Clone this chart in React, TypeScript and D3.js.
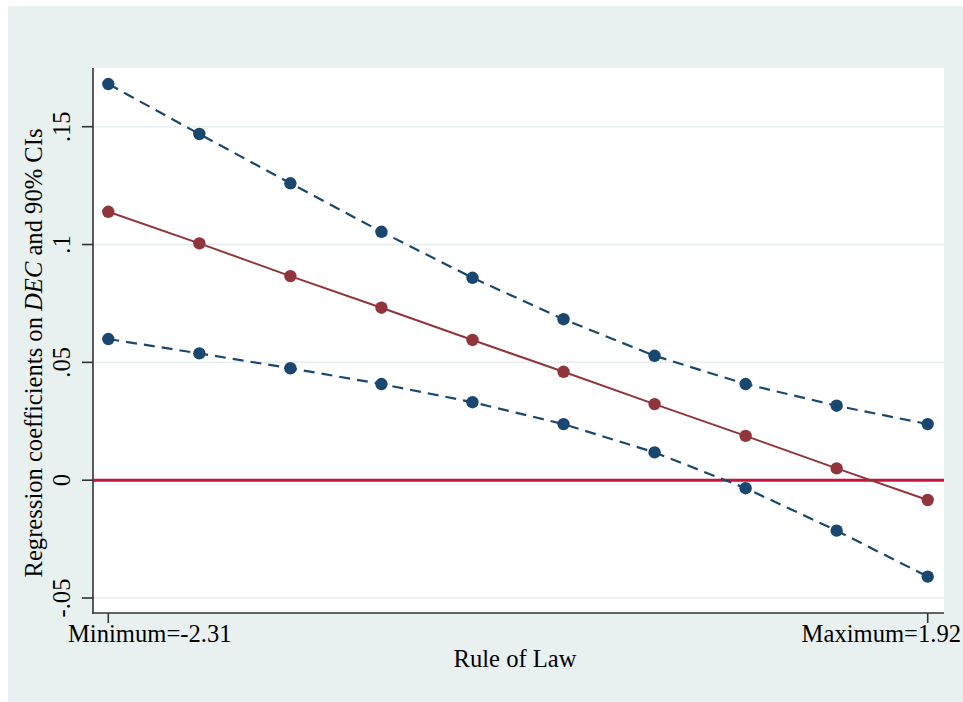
import React from "react";
import * as d3 from "d3";

// Rule of Law evaluation points (min to max)
const ruleOfLaw = [-2.31, -1.84, -1.37, -0.9, -0.43, 0.04, 0.51, 0.98, 1.45, 1.92];
// Marginal effect of DEC and its 90% confidence bounds
const coef = [0.1139, 0.1005, 0.0866, 0.0732, 0.0595, 0.046, 0.0323, 0.0188, 0.005, -0.0084];
const upperCI = [0.1681, 0.1469, 0.126, 0.1054, 0.0859, 0.0683, 0.0528, 0.0408, 0.0316, 0.0238];
const lowerCI = [0.0599, 0.0538, 0.0475, 0.0408, 0.0331, 0.0238, 0.0118, -0.0034, -0.0214, -0.0409];

const yTickValues = [0.15, 0.1, 0.05, 0, -0.05];
const yTickLabels = [".15", ".1", ".05", "0", "-.05"];
const xTickValues = [-2.31, 1.92];
const xTickLabels = ["Minimum=-2.31", "Maximum=1.92"];

const W = 963;
const H = 702;
const plot = { left: 93, right: 944, top: 68, bottom: 613 };

const NAVY = "#1a476f";
const MAROON = "#90353b";
const ZERO = "#c8143c";
const BG = "#e8f0f0";
const GRID = "#e6eef0";
const FONT = "'Liberation Serif', 'Times New Roman', serif";
const FS = 24.6;

export default function App() {
  const x = d3.scaleLinear().domain([-2.31, 1.92]).range([108.3, 927.7]);
  const y = d3.scaleLinear().domain([0, 0.15]).range([480.2, 126.7]);

  const line = d3
    .line<[number, number]>()
    .x((d) => x(d[0]))
    .y((d) => y(d[1]));

  const pts = (vals: number[]) => ruleOfLaw.map((r, i) => [r, vals[i]] as [number, number]);

  const series = [
    { vals: upperCI, color: NAVY, dash: "11 7", width: 2.2 },
    { vals: lowerCI, color: NAVY, dash: "11 7", width: 2.2 },
    { vals: coef, color: MAROON, dash: undefined, width: 2 },
  ];

  return (
    <svg
      width={W}
      height={H}
      style={{ position: "absolute", left: 0, top: 0, display: "block" }}
      fontFamily={FONT}
    >
      <rect x={0} y={0} width={W} height={H} fill="#ffffff" />
      <rect x={8} y={6} width={W - 8} height={H - 6} fill={BG} />
      <rect
        x={plot.left}
        y={plot.top}
        width={plot.right - plot.left}
        height={plot.bottom - plot.top}
        fill="#ffffff"
      />

      {/* horizontal grid */}
      {yTickValues.map((v) => (
        <line
          key={"g" + v}
          x1={plot.left}
          x2={plot.right}
          y1={y(v)}
          y2={y(v)}
          stroke={GRID}
          strokeWidth={1.5}
        />
      ))}

      {/* zero reference line */}
      <line x1={plot.left} x2={plot.right} y1={y(0)} y2={y(0)} stroke={ZERO} strokeWidth={3} />

      {/* series lines and markers */}
      {series.map((s, i) => (
        <g key={"s" + i}>
          <path
            d={line(pts(s.vals)) || ""}
            fill="none"
            stroke={s.color}
            strokeWidth={s.width}
            strokeDasharray={s.dash}
          />
          {pts(s.vals).map((p, j) => (
            <circle key={j} cx={x(p[0])} cy={y(p[1])} r={6.2} fill={s.color} />
          ))}
        </g>
      ))}

      {/* axes */}
      <line x1={plot.left} x2={plot.left} y1={plot.top} y2={plot.bottom + 0.75} stroke="#333" strokeWidth={1.6} />
      <line x1={plot.left - 0.75} x2={plot.right} y1={plot.bottom} y2={plot.bottom} stroke="#333" strokeWidth={1.6} />

      {yTickValues.map((v, i) => (
        <g key={"yt" + v}>
          <line x1={plot.left - 11} x2={plot.left} y1={y(v)} y2={y(v)} stroke="#333" strokeWidth={1.6} />
          <text
            transform={`translate(70,${y(v)}) rotate(-90)`}
            textAnchor="middle"
            fontSize={FS}
            fill="#000"
          >
            {yTickLabels[i]}
          </text>
        </g>
      ))}

      {xTickValues.map((v) => (
        <line
          key={"xt" + v}
          x1={x(v)}
          x2={x(v)}
          y1={plot.bottom}
          y2={plot.bottom + 10}
          stroke="#333"
          strokeWidth={1.6}
        />
      ))}
      <text x={68} y={642} fontSize={FS} fill="#000">
        {xTickLabels[0]}
      </text>
      <text x={961} y={642} textAnchor="end" fontSize={FS} fill="#000">
        {xTickLabels[1]}
      </text>

      {/* axis titles */}
      <text x={515} y={667} textAnchor="middle" fontSize={FS} fill="#000">
        Rule of Law
      </text>
      <text
        transform={`translate(42,${353}) rotate(-90)`}
        textAnchor="middle"
        fontSize={FS}
        fill="#000"
      >
        Regression coefficients on <tspan fontStyle="italic">DEC</tspan> and 90% CIs
      </text>
    </svg>
  );
}
